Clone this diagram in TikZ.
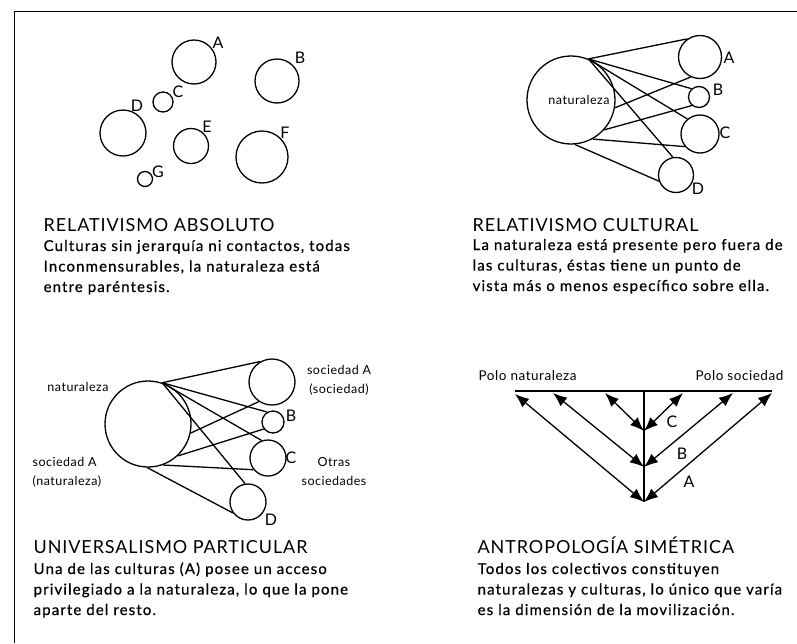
\documentclass[tikz,border=0pt]{standalone}
\usepackage{fontspec}
\setmainfont{Lato}
\newfontfamily\cuerpo{Lato}[LetterSpace=7.5,FakeBold=0.6]
\newfontfamily\cabeza{Lato}[LetterSpace=5]
\newfontfamily\etiq{Lato}[LetterSpace=4]
\usetikzlibrary{arrows.meta}

\begin{document}
\begin{tikzpicture}[x=1pt,y=-1pt,line width=1.3pt]

%
% Styles
%
\tikzstyle{cult} = [circle,draw,inner sep=0pt]
\tikzstyle{letra} = [font=\fontsize{16}{16}\selectfont,inner sep=0pt]
\tikzstyle{chico} = [font=\etiq\fontsize{12.5}{19}\selectfont,inner sep=0pt]
\tikzstyle{titulo} = [font=\cabeza\fontsize{18}{20}\selectfont,anchor=base west,inner sep=0pt]
\tikzstyle{texto} = [font=\cuerpo\fontsize{15}{20.5}\selectfont,anchor=base west,inner sep=0pt,align=left,text width=360pt]
\tikzstyle{flecha} = [{Latex[length=14pt,width=11pt]}-{Latex[length=14pt,width=11pt]}]

\useasboundingbox (0,0) rectangle (797,643);
\draw[line width=1pt] (14,643) -- (14,11) -- (797,11);

%
% Relativismo absoluto
%
\node[cult,minimum size=44] (ra) at (194,62)  {};
\node[cult,minimum size=44] (rb) at (277,81)  {};
\node[cult,minimum size=20] (rc) at (163,102) {};
\node[cult,minimum size=46] (rd) at (123,133) {};
\node[cult,minimum size=35] (re) at (191,146) {};
\node[cult,minimum size=52] (rf) at (262,157) {};
\node[cult,minimum size=15] (rg) at (145,179) {};

\node[letra] (la) at (218,43)  {A};
\node[letra] (lb) at (300,58)  {B};
\node[letra] (lc) at (178,92)  {C};
\node[letra] (ld) at (137,106) {D};
\node[letra] (le) at (207,127) {E};
\node[letra] (lf) at (285,133) {F};
\node[letra] (lg) at (158,172) {G};

\node[titulo] (t1) at (43,231) {RELATIVISMO ABSOLUTO};
\node[texto]  (x1) at (43,251) {Culturas sin jerarquía ni contactos, todas\\
  Inconmensurables, la naturaleza está\\ entre paréntesis.};

%
% Relativismo cultural
%
\node[cult,minimum size=88] (nat) at (571,100) {};
\node[chico] (lnat) at (579,100) {naturaleza};
\node[cult,minimum size=43] (ca) at (700,57)  {};
\node[cult,minimum size=21] (cb) at (699,97)  {};
\node[cult,minimum size=38] (cc) at (700,134) {};
\node[cult,minimum size=35] (cd) at (676,175) {};

\node[letra] (lca) at (729,58)  {A};
\node[letra] (lcb) at (718,90)  {B};
\node[letra] (lcc) at (725,133) {C};
\node[letra] (lcd) at (698,189) {D};

\path (nat.67)  edge (ca.125);
\path (nat.67)  edge (cb.132);
\path (nat.67)  edge (cc.130);
\path (nat.67)  edge (cd.100);
\path (nat.-10) edge (ca.-115);
\path (nat.-42) edge (cb.-130);
\path (nat.-61) edge (cc.-140);
\path (nat.-85) edge (cd.-160);

\node[titulo] (t2) at (472,231) {RELATIVISMO CULTURAL};
\node[texto]  (x2) at (472,250) {La naturaleza está presente pero fuera de\\
  las culturas, éstas tiene un punto de\\ vista más o menos específico sobre ella.};

%
% Universalismo particular
%
\node[cult,minimum size=86] (unat) at (148,424) {};
\node[cult,minimum size=46] (ua) at (272,382) {};
\node[cult,minimum size=22] (ub) at (273,422) {};
\node[cult,minimum size=36] (uc) at (268,458) {};
\node[cult,minimum size=36] (ud) at (248,502) {};

\node[letra] (lub) at (291,416) {B};
\node[letra] (luc) at (291,458) {C};
\node[letra] (lud) at (271,520) {D};

\node[chico] (lunat) at (78,387) {naturaleza};
\node[chico,align=left,anchor=west] (lusn) at (32,472) {sociedad A\\(naturaleza)};
\node[chico,align=center] (luss) at (339,380) {sociedad A\\(sociedad)};
\node[chico,align=center] (luot) at (334,472) {Otras\\sociedades};

\path (unat.71)  edge (ua.120);
\path (unat.71)  edge (ub.121);
\path (unat.71)  edge (uc.110);
\path (unat.71)  edge (ud.99);
\path (unat.-12) edge (ua.-124);
\path (unat.-47) edge (ub.-143);
\path (unat.-70) edge (uc.-141);
\path (unat.-91) edge (ud.-144);

\node[titulo] (t3) at (33,553) {UNIVERSALISMO PARTICULAR};
\node[texto]  (x3) at (33,574) {Una de las culturas (A) posee un acceso\\
  privilegiado a la naturaleza, lo que la pone\\ aparte del resto.};

%
% Antropologia simetrica
%
\coordinate (pn) at (515,391);
\coordinate (ps) at (772,391);
\coordinate (v)  at (644,391);
\coordinate (n1) at (515,394);
\coordinate (n2) at (553,393);
\coordinate (n3) at (605,393);
\coordinate (s3) at (683,393);
\coordinate (s2) at (733,393);
\coordinate (s1) at (772,393);
\coordinate (a)  at (644,502);
\coordinate (b)  at (644,467);
\coordinate (c)  at (644,431);

\draw (pn) -- (ps);
\draw (v) -- (a);

\draw[flecha] (n1) -- (a);
\draw[flecha] (s1) -- (a);
\draw[flecha] (n2) -- (b);
\draw[flecha] (s2) -- (b);
\draw[flecha] (n3) -- (c);
\draw[flecha] (s3) -- (c);

\node[letra] (lsc) at (672,422) {C};
\node[letra] (lsb) at (682,454) {B};
\node[letra] (lsa) at (689,482) {A};

\node[chico,font=\etiq\fontsize{13.5}{16}\selectfont,anchor=base west] (lpn) at (478,380) {Polo naturaleza};
\node[chico,font=\etiq\fontsize{13.5}{16}\selectfont,anchor=base east] (lps) at (784,380) {Polo sociedad};

\node[titulo] (t4) at (477,553) {ANTROPOLOGÍA SIMÉTRICA};
\node[texto]  (x4) at (477,574) {Todos los colectivos constituyen\\
  naturalezas y culturas, lo único que varía\\ es la dimensión de la movilización.};

\end{tikzpicture}
\end{document}
